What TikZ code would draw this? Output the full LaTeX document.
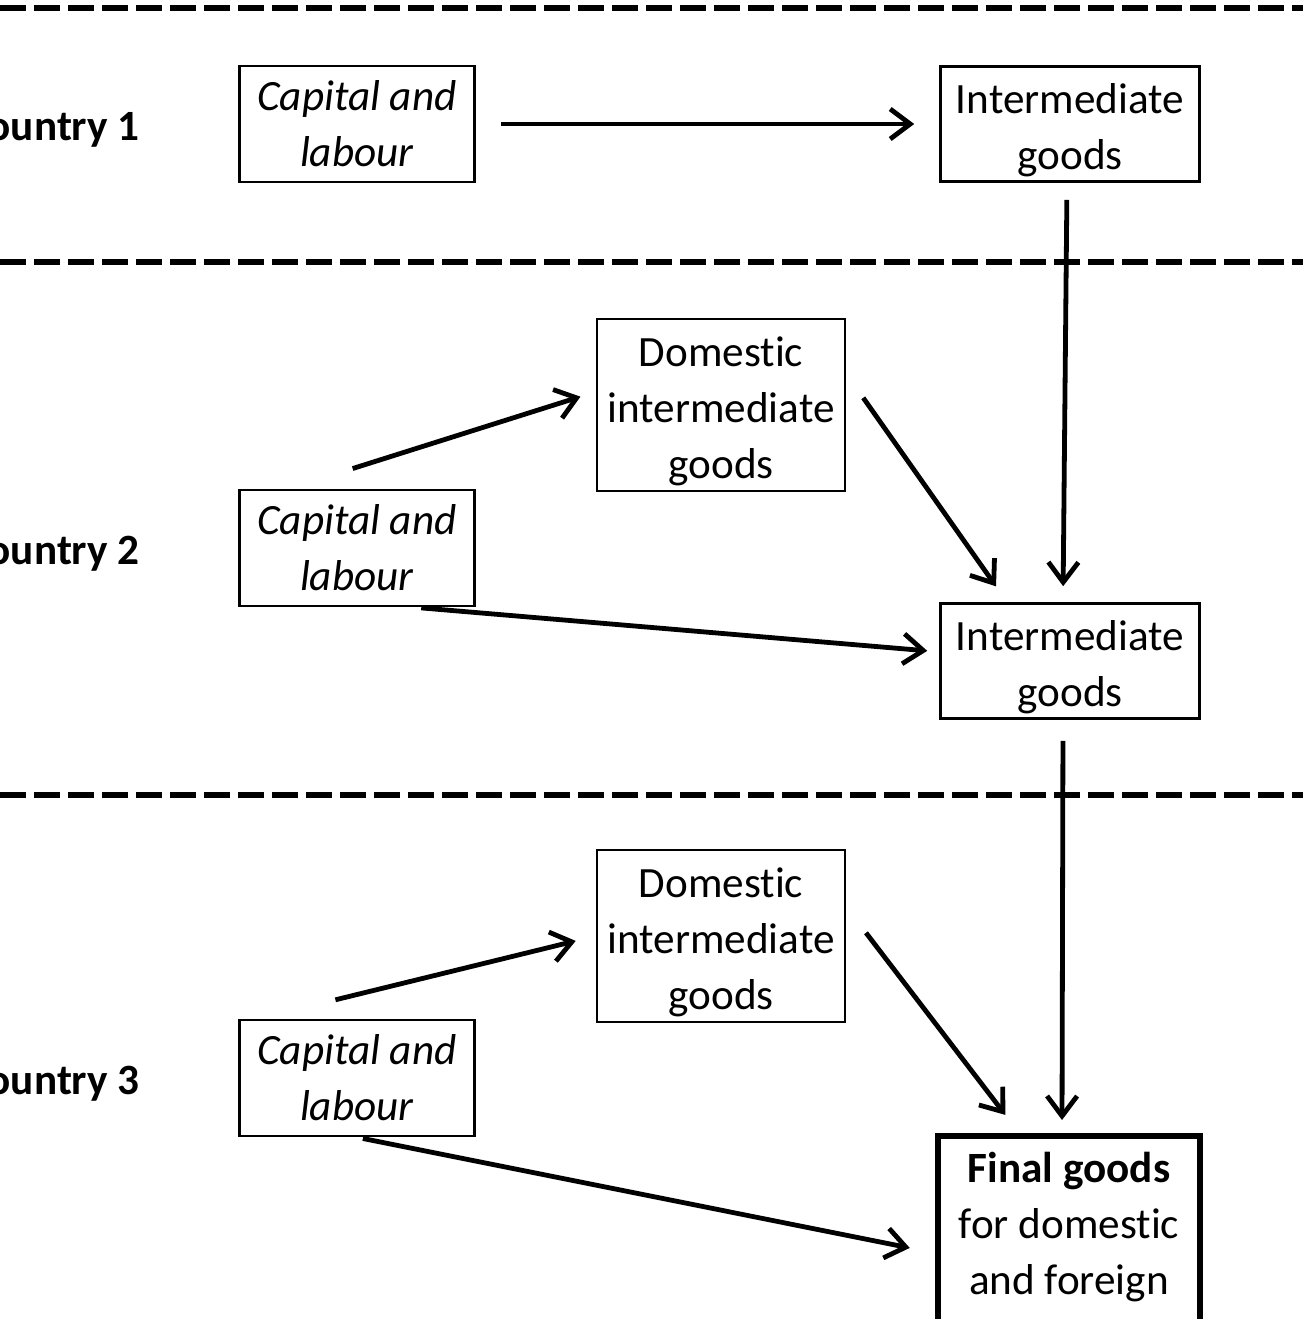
\documentclass[tikz,border=0pt]{standalone}
\usepackage{fontspec}
\setmainfont[Ligatures={NoCommon}]{Carlito}
\usetikzlibrary{arrows.meta}

\newcommand{\boxstrut}{\rule{0pt}{21pt}}

\begin{document}
\begin{tikzpicture}[x=0.5pt, y=-0.5pt, >={Straight Barb[length=10pt,width=15pt]},
    box/.style={draw=black, line width=1.3pt, align=center, inner sep=0pt, font=\fontsize{21.6}{28}\selectfont},
    link/.style={->, line width=2.4pt}]
        \useasboundingbox (0,0) rectangle (1303,1319);
        \clip (0,0) rectangle (1303,1319);

        % Country borders
        \foreach \y in {8,262,795}
        \draw[line width=2.75pt, dash pattern=on 12.75pt off 4.25pt] (0,\y) -- (1303,\y);

        % Capital and labour, country labels
        \foreach \i/\y in {1/124,2/548,3/1078}
        {
        \node[box, minimum width=117.5pt, minimum height=58pt] (CL-\i) at (357,\y) {\textit{Capital and}\\\textit{labour}};
        \node[anchor=east, inner sep=0pt, font=\fontsize{21.6}{28}\selectfont\bfseries] (C-\i) at (140,\y+6) {Country \i};
        }

        % Intermediate goods
        \node[box, minimum width=129.5pt, minimum height=57.5pt] (IG-1) at (1070,124) {\boxstrut Intermediate\\goods};
        \node[box, minimum width=129.5pt, minimum height=57.5pt] (IG-2) at (1070,661) {\boxstrut Intermediate\\goods};

        % Domestic intermediate goods
        \node[box, minimum width=124pt, minimum height=86pt] (DIG-2) at (721,405) {\boxstrut Domestic\\intermediate\\goods};
        \node[box, minimum width=124pt, minimum height=86pt] (DIG-3) at (721,936) {\boxstrut Domestic\\intermediate\\goods};

        % Final goods
        \node[box, line width=2.75pt, minimum width=131pt, anchor=north, inner ysep=2.5pt] (FG) at (1069,1133) {\boxstrut\textbf{Final goods}\\for domestic\\and foreign\\\mbox{}};

        % Links
        \draw[link, shorten <=12.5pt, shorten >=12.5pt] (CL-1.east) -- (IG-1.west);
        \draw[link, shorten <=8.5pt, shorten >=8pt] ([xshift=-1.5pt]IG-1.south) -- ([xshift=-3.5pt]IG-2.north);
        \draw[link, shorten <=33.5pt, shorten >=8pt] (CL-2.139.5) -- (DIG-2.174.5);
        \draw[link, shorten <=14.7pt, shorten >=9.7pt] (DIG-2.14.5) -- ([xshift=34pt]IG-2.north west);
        \draw[link, shorten <=3.5pt, shorten >=6pt] (CL-2.-46) -- (IG-2.176);
        \draw[link, shorten <=10.5pt, shorten >=6.5pt] ([xshift=-3.5pt]IG-2.south) -- ([xshift=-3.5pt]FG.north);
        \draw[link, shorten <=39.7pt, shorten >=10.3pt] (CL-3.149.7) -- (DIG-3.west);
        \draw[link, shorten <=16.2pt, shorten >=11.4pt] (DIG-3.13.2) -- ([xshift=42pt]FG.north west);
        \draw[link, shorten <=3pt, shorten >=13pt] (CL-3.south) -- ([yshift=-60pt]FG.north west);
    \end{tikzpicture}
\end{document}
